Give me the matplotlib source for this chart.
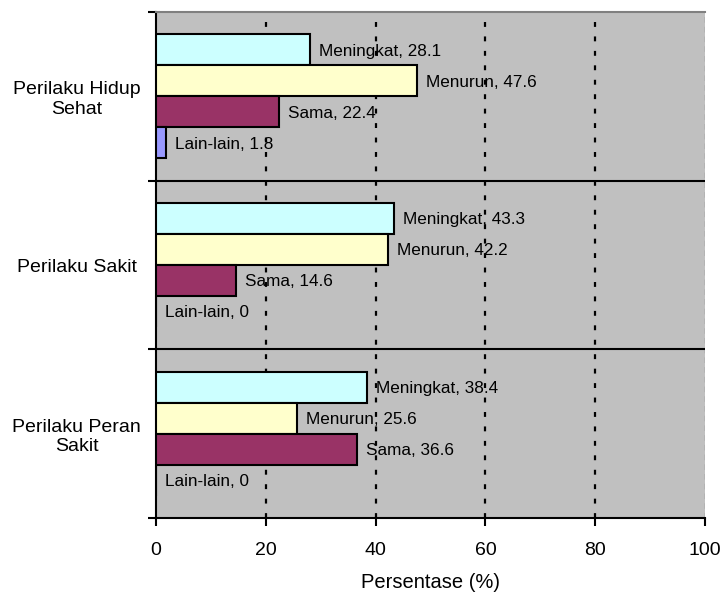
import matplotlib
matplotlib.use("Agg")
import matplotlib.pyplot as plt
import numpy as np

plt.rcParams['font.family'] = ['Liberation Sans', 'DejaVu Sans']

# kategori perilaku (atas ke bawah)
categories = ["Perilaku Hidup\nSehat", "Perilaku Sakit", "Perilaku Peran\nSakit"]
series_names = ["Meningkat", "Menurun", "Sama", "Lain-lain"]
meningkat = [28.1, 43.3, 38.4]
menurun = [47.6, 42.2, 25.6]
sama = [22.4, 14.6, 36.6]
lain_lain = [1.8, 0, 0]
colors = ["#CCFFFF", "#FFFFCC", "#993366", "#9999FF"]

values = [meningkat, menurun, sama, lain_lain]

fig = plt.figure(figsize=(7.25, 5.96), dpi=100)
ax = fig.add_axes([156 / 725, 1 - 518 / 596, 549 / 725, 506 / 596])
ax.set_facecolor("#C0C0C0")

n_cat = len(categories)
centers = np.arange(n_cat)[::-1].astype(float)
h = 0.184
offsets = [1.5 * h, 0.5 * h, -0.5 * h, -1.5 * h]

for vals, name, col, off in zip(values, series_names, colors, offsets):
    ys = centers + off
    ax.barh(ys, vals, height=h, color=col, edgecolor="black", linewidth=1.5, zorder=3)
    for y, v in zip(ys, vals):
        ax.annotate(f"{name}, {v:g}", xy=(v, y), xytext=(6.5, -1), textcoords="offset points",
                    ha="left", va="center", fontsize=12.3, zorder=5)

ax.set_xlim(0, 100)
ax.set_ylim(-0.5, n_cat - 0.5)

# garis putus-putus vertikal
for gx in [20, 40, 60, 80]:
    ax.axvline(gx, color="black", linewidth=1.6, linestyle=(0, (2.2, 4.3)), zorder=1)
ax.axvline(100, color="#808080", linewidth=1.0, linestyle=(0, (4, 3)), zorder=1)

# garis pemisah antar kategori
for by in np.arange(n_cat - 1) + 0.5:
    ax.axhline(by, color="black", linewidth=1.5, zorder=2)

ax.set_xticks([0, 20, 40, 60, 80, 100])
ax.tick_params(axis="x", direction="out", length=6, width=1.5, labelsize=14, pad=11)

ax.set_yticks(np.arange(n_cat + 1) - 0.5)
ax.set_yticklabels([])
ax.set_yticks(centers, minor=True)
ax.set_yticklabels(categories, minor=True, ha="center", linespacing=1.2)
ax.tick_params(axis="y", which="minor", length=0, labelsize=14, pad=57)
ax.tick_params(axis="y", which="major", direction="out", length=6, width=1.5)

ax.spines["left"].set_linewidth(1.5)
ax.spines["bottom"].set_linewidth(1.5)
ax.spines["top"].set_color("#808080")
ax.spines["top"].set_linewidth(1.5)
ax.spines["right"].set_visible(False)

ax.set_xlabel("Persentase (%)", fontsize=14.5, labelpad=10)

fig.savefig("out.png", dpi=100)
